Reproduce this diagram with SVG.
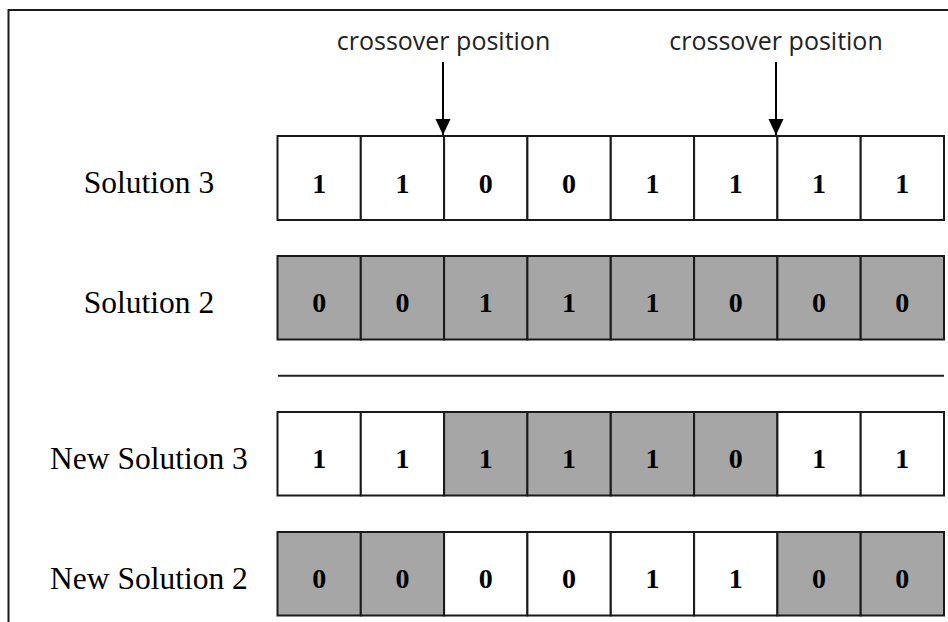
<svg xmlns="http://www.w3.org/2000/svg" width="948" height="622" viewBox="0 0 948 622">
  <style>
    .frame { fill: none; stroke: #1a1a1a; stroke-width: 2; }
    .cell { stroke: #1a1a1a; stroke-width: 2; }
    .w { fill: #ffffff; }
    .g { fill: #a6a6a6; }
    .bit { font-family: "Liberation Serif", "Times New Roman", serif; font-weight: bold; font-size: 28px; text-anchor: middle; fill: #000; }
    .label { font-family: "Liberation Serif", "Times New Roman", serif; font-size: 31.5px; text-anchor: middle; fill: #000; }
    .note { font-family: "Open Sans", "Liberation Sans", sans-serif; font-size: 25px; text-anchor: middle; fill: #222; }
    .arrow { stroke: #000; stroke-width: 2; fill: none; marker-end: url(#head); }
    .rule { stroke: #222; stroke-width: 2; }
  </style>
  <defs>
    <marker id="head" markerUnits="userSpaceOnUse" markerWidth="16" markerHeight="17" refX="17" refY="8" orient="auto" viewBox="0 0 17 16">
      <path d="M0,0 L17,8 L0,16 z" fill="#000"/>
    </marker>
  </defs>

  <rect width="948" height="622" fill="#ffffff"/>
  <!-- outer frame, open to the right and bottom -->
  <rect class="frame" x="8.5" y="10" width="980" height="700"/>

  <!-- crossover markers -->
  <g id="connectors">
    <text class="note" x="443.5" y="49.5">crossover position</text>
    <line class="arrow" x1="443" y1="62" x2="443" y2="135"/>
    <text class="note" x="776" y="49.5">crossover position</text>
    <line class="arrow" x1="776" y1="62" x2="776" y2="135"/>
  </g>

  <!-- parent chromosome: Solution 3 -->
  <g id="solution3">
    <text class="label" x="149" y="193">Solution 3</text>
    <rect class="cell w" x="277.5" y="136" width="83.3" height="84"/>
    <rect class="cell w" x="360.8" y="136" width="83.3" height="84"/>
    <rect class="cell w" x="444.1" y="136" width="83.3" height="84"/>
    <rect class="cell w" x="527.4" y="136" width="83.3" height="84"/>
    <rect class="cell w" x="610.8" y="136" width="83.3" height="84"/>
    <rect class="cell w" x="694.1" y="136" width="83.3" height="84"/>
    <rect class="cell w" x="777.4" y="136" width="83.3" height="84"/>
    <rect class="cell w" x="860.7" y="136" width="83.3" height="84"/>
    <text class="bit" x="319.2" y="193">1</text>
    <text class="bit" x="402.5" y="193">1</text>
    <text class="bit" x="485.8" y="193">0</text>
    <text class="bit" x="569.1" y="193">0</text>
    <text class="bit" x="652.4" y="193">1</text>
    <text class="bit" x="735.7" y="193">1</text>
    <text class="bit" x="819.0" y="193">1</text>
    <text class="bit" x="902.3" y="193">1</text>
  </g>

  <!-- parent chromosome: Solution 2 -->
  <g id="solution2">
    <text class="label" x="149" y="312.5">Solution 2</text>
    <rect class="cell g" x="277.5" y="256" width="83.3" height="83.5"/>
    <rect class="cell g" x="360.8" y="256" width="83.3" height="83.5"/>
    <rect class="cell g" x="444.1" y="256" width="83.3" height="83.5"/>
    <rect class="cell g" x="527.4" y="256" width="83.3" height="83.5"/>
    <rect class="cell g" x="610.8" y="256" width="83.3" height="83.5"/>
    <rect class="cell g" x="694.1" y="256" width="83.3" height="83.5"/>
    <rect class="cell g" x="777.4" y="256" width="83.3" height="83.5"/>
    <rect class="cell g" x="860.7" y="256" width="83.3" height="83.5"/>
    <text class="bit" x="319.2" y="312">0</text>
    <text class="bit" x="402.5" y="312">0</text>
    <text class="bit" x="485.8" y="312">1</text>
    <text class="bit" x="569.1" y="312">1</text>
    <text class="bit" x="652.4" y="312">1</text>
    <text class="bit" x="735.7" y="312">0</text>
    <text class="bit" x="819.0" y="312">0</text>
    <text class="bit" x="902.3" y="312">0</text>
  </g>

  <!-- divider between parents and offspring -->
  <line class="rule" x1="278" y1="375.7" x2="944" y2="375.7"/>

  <!-- offspring: New Solution 3 -->
  <g id="new-solution3">
    <text class="label" x="149" y="468.5">New Solution 3</text>
    <rect class="cell w" x="277.5" y="412" width="83.3" height="83.5"/>
    <rect class="cell w" x="360.8" y="412" width="83.3" height="83.5"/>
    <rect class="cell g" x="444.1" y="412" width="83.3" height="83.5"/>
    <rect class="cell g" x="527.4" y="412" width="83.3" height="83.5"/>
    <rect class="cell g" x="610.8" y="412" width="83.3" height="83.5"/>
    <rect class="cell g" x="694.1" y="412" width="83.3" height="83.5"/>
    <rect class="cell w" x="777.4" y="412" width="83.3" height="83.5"/>
    <rect class="cell w" x="860.7" y="412" width="83.3" height="83.5"/>
    <text class="bit" x="319.2" y="468">1</text>
    <text class="bit" x="402.5" y="468">1</text>
    <text class="bit" x="485.8" y="468">1</text>
    <text class="bit" x="569.1" y="468">1</text>
    <text class="bit" x="652.4" y="468">1</text>
    <text class="bit" x="735.7" y="468">0</text>
    <text class="bit" x="819.0" y="468">1</text>
    <text class="bit" x="902.3" y="468">1</text>
  </g>

  <!-- offspring: New Solution 2 -->
  <g id="new-solution2">
    <text class="label" x="149" y="588.5">New Solution 2</text>
    <rect class="cell g" x="277.5" y="532" width="83.3" height="83.5"/>
    <rect class="cell g" x="360.8" y="532" width="83.3" height="83.5"/>
    <rect class="cell w" x="444.1" y="532" width="83.3" height="83.5"/>
    <rect class="cell w" x="527.4" y="532" width="83.3" height="83.5"/>
    <rect class="cell w" x="610.8" y="532" width="83.3" height="83.5"/>
    <rect class="cell w" x="694.1" y="532" width="83.3" height="83.5"/>
    <rect class="cell g" x="777.4" y="532" width="83.3" height="83.5"/>
    <rect class="cell g" x="860.7" y="532" width="83.3" height="83.5"/>
    <text class="bit" x="319.2" y="588">0</text>
    <text class="bit" x="402.5" y="588">0</text>
    <text class="bit" x="485.8" y="588">0</text>
    <text class="bit" x="569.1" y="588">0</text>
    <text class="bit" x="652.4" y="588">1</text>
    <text class="bit" x="735.7" y="588">1</text>
    <text class="bit" x="819.0" y="588">0</text>
    <text class="bit" x="902.3" y="588">0</text>
  </g>
</svg>
